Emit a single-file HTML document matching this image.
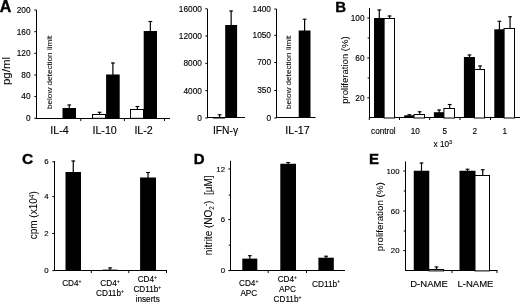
<!DOCTYPE html>
<html><head><meta charset="utf-8"><title>Figure</title>
<style>html,body{margin:0;padding:0;background:#fff;overflow:hidden}svg{display:block;will-change:transform;opacity:0.999}</style>
</head><body>
<svg width="520" height="303" viewBox="0 0 520 303">
<rect width="520" height="303" fill="#fff"/>
<text x="-0.2" y="11.8" font-family="Liberation Sans, sans-serif" font-size="16" text-anchor="start" font-weight="bold" fill="#000" stroke="#000" stroke-width="0.35">A</text>
<line x1="36.5" y1="10" x2="36.5" y2="119.0" stroke="#000" stroke-width="1"/>
<line x1="36.0" y1="118.5" x2="170" y2="118.5" stroke="#000" stroke-width="1"/>
<line x1="34.3" y1="118.3" x2="36.5" y2="118.3" stroke="#000" stroke-width="1"/>
<text x="30.5" y="121.122" font-family="Liberation Sans, sans-serif" font-size="8.3" text-anchor="end" fill="#000" stroke="#000" stroke-width="0.13">0</text>
<line x1="34.3" y1="96.6" x2="36.5" y2="96.6" stroke="#000" stroke-width="1"/>
<text x="30.5" y="99.422" font-family="Liberation Sans, sans-serif" font-size="8.3" text-anchor="end" fill="#000" stroke="#000" stroke-width="0.13">40</text>
<line x1="34.3" y1="75" x2="36.5" y2="75" stroke="#000" stroke-width="1"/>
<text x="30.5" y="77.822" font-family="Liberation Sans, sans-serif" font-size="8.3" text-anchor="end" fill="#000" stroke="#000" stroke-width="0.13">80</text>
<line x1="34.3" y1="53.3" x2="36.5" y2="53.3" stroke="#000" stroke-width="1"/>
<text x="30.5" y="56.122" font-family="Liberation Sans, sans-serif" font-size="8.3" text-anchor="end" fill="#000" stroke="#000" stroke-width="0.13">120</text>
<line x1="34.3" y1="31.7" x2="36.5" y2="31.7" stroke="#000" stroke-width="1"/>
<text x="30.5" y="34.522" font-family="Liberation Sans, sans-serif" font-size="8.3" text-anchor="end" fill="#000" stroke="#000" stroke-width="0.13">160</text>
<line x1="34.3" y1="10" x2="36.5" y2="10" stroke="#000" stroke-width="1"/>
<text x="30.5" y="12.822000000000001" font-family="Liberation Sans, sans-serif" font-size="8.3" text-anchor="end" fill="#000" stroke="#000" stroke-width="0.13">200</text>
<line x1="80.8" y1="118.5" x2="80.8" y2="121.0" stroke="#000" stroke-width="1"/>
<line x1="124.4" y1="118.5" x2="124.4" y2="121.0" stroke="#000" stroke-width="1"/>
<line x1="164.5" y1="118.5" x2="164.5" y2="121.0" stroke="#000" stroke-width="1"/>
<line x1="69.25" y1="104.5" x2="69.25" y2="108.5" stroke="#000" stroke-width="1.2"/>
<line x1="67.35" y1="105.0" x2="71.15" y2="105.0" stroke="#000" stroke-width="1.1"/>
<rect x="62.5" y="108" width="13.50" height="10.30" fill="#000"/>
<line x1="99.55" y1="111.8" x2="99.55" y2="114.5" stroke="#000" stroke-width="1.2"/>
<line x1="97.64999999999999" y1="112.3" x2="101.45" y2="112.3" stroke="#000" stroke-width="1.1"/>
<rect x="92.5" y="114.5" width="13.00" height="3.80" fill="#fff" stroke="#000" stroke-width="1"/>
<line x1="112.9" y1="62.5" x2="112.9" y2="75.0" stroke="#000" stroke-width="1.2"/>
<line x1="111.0" y1="63.0" x2="114.80000000000001" y2="63.0" stroke="#000" stroke-width="1.1"/>
<rect x="106.1" y="74.5" width="13.60" height="43.80" fill="#000"/>
<line x1="137.35" y1="106" x2="137.35" y2="109.5" stroke="#000" stroke-width="1.2"/>
<line x1="135.45" y1="106.5" x2="139.25" y2="106.5" stroke="#000" stroke-width="1.1"/>
<rect x="130.5" y="109.5" width="13.00" height="8.80" fill="#fff" stroke="#000" stroke-width="1"/>
<line x1="150.35" y1="21" x2="150.35" y2="31.5" stroke="#000" stroke-width="1.2"/>
<line x1="148.45" y1="21.5" x2="152.25" y2="21.5" stroke="#000" stroke-width="1.1"/>
<rect x="143.7" y="31" width="13.30" height="87.30" fill="#000"/>
<text x="59.5" y="133.6" font-family="Liberation Sans, sans-serif" font-size="10.7" text-anchor="middle" fill="#000" stroke="#000" stroke-width="0.13">IL-4</text>
<text x="104.6" y="133.6" font-family="Liberation Sans, sans-serif" font-size="10.7" text-anchor="middle" fill="#000" stroke="#000" stroke-width="0.13">IL-10</text>
<text x="143.6" y="133.6" font-family="Liberation Sans, sans-serif" font-size="10.7" text-anchor="middle" fill="#000" stroke="#000" stroke-width="0.13">IL-2</text>
<text x="9.8" y="71" font-family="Liberation Sans, sans-serif" font-size="11.5" text-anchor="middle" transform="rotate(-90 9.8 71)" fill="#000" stroke="#000" stroke-width="0.05">pg/ml</text>
<text x="51.6" y="72.3" font-family="Liberation Sans, sans-serif" font-size="7.7" text-anchor="middle" transform="rotate(-90 51.6 72.3)" fill="#000" stroke="#000" stroke-width="0.05" textLength="73.4" lengthAdjust="spacingAndGlyphs">below detection limit</text>
<line x1="207.5" y1="9" x2="207.5" y2="118.0" stroke="#000" stroke-width="1"/>
<line x1="207.0" y1="117.5" x2="245" y2="117.5" stroke="#000" stroke-width="1"/>
<line x1="205.3" y1="118" x2="207.5" y2="118" stroke="#000" stroke-width="1"/>
<text x="201.9" y="120.822" font-family="Liberation Sans, sans-serif" font-size="8.3" text-anchor="end" fill="#000" stroke="#000" stroke-width="0.13">0</text>
<line x1="205.3" y1="90.7" x2="207.5" y2="90.7" stroke="#000" stroke-width="1"/>
<text x="201.9" y="93.522" font-family="Liberation Sans, sans-serif" font-size="8.3" text-anchor="end" fill="#000" stroke="#000" stroke-width="0.13">4000</text>
<line x1="205.3" y1="63.3" x2="207.5" y2="63.3" stroke="#000" stroke-width="1"/>
<text x="201.9" y="66.122" font-family="Liberation Sans, sans-serif" font-size="8.3" text-anchor="end" fill="#000" stroke="#000" stroke-width="0.13">8000</text>
<line x1="205.3" y1="36" x2="207.5" y2="36" stroke="#000" stroke-width="1"/>
<text x="201.9" y="38.822" font-family="Liberation Sans, sans-serif" font-size="8.3" text-anchor="end" fill="#000" stroke="#000" stroke-width="0.13">12000</text>
<line x1="205.3" y1="8.8" x2="207.5" y2="8.8" stroke="#000" stroke-width="1"/>
<text x="201.9" y="11.622000000000002" font-family="Liberation Sans, sans-serif" font-size="8.3" text-anchor="end" fill="#000" stroke="#000" stroke-width="0.13">16000</text>
<line x1="219.6" y1="114.3" x2="219.6" y2="117.1" stroke="#000" stroke-width="1.2"/>
<line x1="217.7" y1="114.8" x2="221.5" y2="114.8" stroke="#000" stroke-width="1.1"/>
<rect x="213.5" y="117.5" width="11.00" height="0.50" fill="#fff" stroke="#000" stroke-width="1"/>
<line x1="231.14999999999998" y1="10.5" x2="231.14999999999998" y2="25.5" stroke="#000" stroke-width="1.2"/>
<line x1="229.24999999999997" y1="11.0" x2="233.04999999999998" y2="11.0" stroke="#000" stroke-width="1.1"/>
<rect x="225.2" y="25" width="11.90" height="93.00" fill="#000"/>
<text x="225.5" y="133.8" font-family="Liberation Sans, sans-serif" font-size="10.3" text-anchor="middle" fill="#000" stroke="#000" stroke-width="0.13">IFN-γ</text>
<line x1="276.5" y1="9" x2="276.5" y2="118.0" stroke="#000" stroke-width="1"/>
<line x1="276.0" y1="117.5" x2="315.5" y2="117.5" stroke="#000" stroke-width="1"/>
<line x1="274.3" y1="118" x2="276.5" y2="118" stroke="#000" stroke-width="1"/>
<text x="271" y="120.822" font-family="Liberation Sans, sans-serif" font-size="8.3" text-anchor="end" fill="#000" stroke="#000" stroke-width="0.13">0</text>
<line x1="274.3" y1="90.5" x2="276.5" y2="90.5" stroke="#000" stroke-width="1"/>
<text x="271" y="93.322" font-family="Liberation Sans, sans-serif" font-size="8.3" text-anchor="end" fill="#000" stroke="#000" stroke-width="0.13">350</text>
<line x1="274.3" y1="62.5" x2="276.5" y2="62.5" stroke="#000" stroke-width="1"/>
<text x="271" y="65.322" font-family="Liberation Sans, sans-serif" font-size="8.3" text-anchor="end" fill="#000" stroke="#000" stroke-width="0.13">700</text>
<line x1="274.3" y1="35.3" x2="276.5" y2="35.3" stroke="#000" stroke-width="1"/>
<text x="271" y="38.122" font-family="Liberation Sans, sans-serif" font-size="8.3" text-anchor="end" fill="#000" stroke="#000" stroke-width="0.13">1050</text>
<line x1="274.3" y1="9" x2="276.5" y2="9" stroke="#000" stroke-width="1"/>
<text x="271" y="11.822000000000001" font-family="Liberation Sans, sans-serif" font-size="8.3" text-anchor="end" fill="#000" stroke="#000" stroke-width="0.13">1400</text>
<line x1="304.6" y1="18.75" x2="304.6" y2="31.0" stroke="#000" stroke-width="1.2"/>
<line x1="302.70000000000005" y1="19.25" x2="306.5" y2="19.25" stroke="#000" stroke-width="1.1"/>
<rect x="298.7" y="30.5" width="11.80" height="87.50" fill="#000"/>
<text x="290.7" y="72.3" font-family="Liberation Sans, sans-serif" font-size="7.7" text-anchor="middle" transform="rotate(-90 290.7 72.3)" fill="#000" stroke="#000" stroke-width="0.05" textLength="73.4" lengthAdjust="spacingAndGlyphs">below detection limit</text>
<text x="297.5" y="133.8" font-family="Liberation Sans, sans-serif" font-size="10.7" text-anchor="middle" fill="#000" stroke="#000" stroke-width="0.13">IL-17</text>
<text x="335.3" y="11.7" font-family="Liberation Sans, sans-serif" font-size="15" text-anchor="start" font-weight="bold" fill="#000" stroke="#000" stroke-width="0.35">B</text>
<line x1="369.5" y1="8" x2="369.5" y2="118.0" stroke="#000" stroke-width="1"/>
<line x1="369.0" y1="117.5" x2="520" y2="117.5" stroke="#000" stroke-width="1"/>
<line x1="367.3" y1="97.8" x2="369.5" y2="97.8" stroke="#000" stroke-width="1"/>
<text x="364.5" y="100.622" font-family="Liberation Sans, sans-serif" font-size="8.3" text-anchor="end" fill="#000" stroke="#000" stroke-width="0.13">20</text>
<line x1="367.3" y1="58" x2="369.5" y2="58" stroke="#000" stroke-width="1"/>
<text x="364.5" y="60.822" font-family="Liberation Sans, sans-serif" font-size="8.3" text-anchor="end" fill="#000" stroke="#000" stroke-width="0.13">60</text>
<line x1="367.3" y1="18" x2="369.5" y2="18" stroke="#000" stroke-width="1"/>
<text x="364.5" y="20.822" font-family="Liberation Sans, sans-serif" font-size="8.3" text-anchor="end" fill="#000" stroke="#000" stroke-width="0.13">100</text>
<line x1="367.7" y1="38" x2="369.5" y2="38" stroke="#000" stroke-width="1"/>
<line x1="367.7" y1="78" x2="369.5" y2="78" stroke="#000" stroke-width="1"/>
<line x1="369.3" y1="117.5" x2="369.3" y2="120.0" stroke="#000" stroke-width="1"/>
<line x1="399.5" y1="117.5" x2="399.5" y2="120.0" stroke="#000" stroke-width="1"/>
<line x1="429.7" y1="117.5" x2="429.7" y2="120.0" stroke="#000" stroke-width="1"/>
<line x1="460" y1="117.5" x2="460" y2="120.0" stroke="#000" stroke-width="1"/>
<line x1="490.5" y1="117.5" x2="490.5" y2="120.0" stroke="#000" stroke-width="1"/>
<line x1="379.3" y1="9.5" x2="379.3" y2="18.5" stroke="#000" stroke-width="1.2"/>
<line x1="377.40000000000003" y1="10.0" x2="381.2" y2="10.0" stroke="#000" stroke-width="1.1"/>
<rect x="374" y="18" width="10.60" height="100.00" fill="#000"/>
<line x1="389.55" y1="15.5" x2="389.55" y2="18.0" stroke="#000" stroke-width="1.2"/>
<line x1="387.65000000000003" y1="16.0" x2="391.45" y2="16.0" stroke="#000" stroke-width="1.1"/>
<rect x="384.1" y="18.5" width="10.40" height="99.50" fill="#fff" stroke="#000" stroke-width="1"/>
<line x1="409.35" y1="114.2" x2="409.35" y2="115.8" stroke="#000" stroke-width="1.2"/>
<line x1="407.45000000000005" y1="114.7" x2="411.25" y2="114.7" stroke="#000" stroke-width="1.1"/>
<rect x="404.2" y="115.3" width="10.30" height="2.70" fill="#000"/>
<line x1="419.65" y1="111.3" x2="419.65" y2="114.5" stroke="#000" stroke-width="1.2"/>
<line x1="417.75" y1="111.8" x2="421.54999999999995" y2="111.8" stroke="#000" stroke-width="1.1"/>
<rect x="414.0" y="114.5" width="10.50" height="3.50" fill="#fff" stroke="#000" stroke-width="1"/>
<line x1="439.15" y1="109.5" x2="439.15" y2="112.7" stroke="#000" stroke-width="1.2"/>
<line x1="437.25" y1="110.0" x2="441.04999999999995" y2="110.0" stroke="#000" stroke-width="1.1"/>
<rect x="433.9" y="112.2" width="10.50" height="5.80" fill="#000"/>
<line x1="449.7" y1="104" x2="449.7" y2="108.0" stroke="#000" stroke-width="1.2"/>
<line x1="447.8" y1="104.5" x2="451.59999999999997" y2="104.5" stroke="#000" stroke-width="1.1"/>
<rect x="443.9" y="108.5" width="10.60" height="9.50" fill="#fff" stroke="#000" stroke-width="1"/>
<line x1="469.45" y1="54.5" x2="469.45" y2="57.5" stroke="#000" stroke-width="1.2"/>
<line x1="467.55" y1="55.0" x2="471.34999999999997" y2="55.0" stroke="#000" stroke-width="1.1"/>
<rect x="463.9" y="57" width="11.10" height="61.00" fill="#000"/>
<line x1="480.1" y1="65.5" x2="480.1" y2="69.8" stroke="#000" stroke-width="1.2"/>
<line x1="478.20000000000005" y1="66.0" x2="482.0" y2="66.0" stroke="#000" stroke-width="1.1"/>
<rect x="474.5" y="69.5" width="10.00" height="48.50" fill="#fff" stroke="#000" stroke-width="1"/>
<line x1="499.45000000000005" y1="20.8" x2="499.45000000000005" y2="29.8" stroke="#000" stroke-width="1.2"/>
<line x1="497.55000000000007" y1="21.3" x2="501.35" y2="21.3" stroke="#000" stroke-width="1.1"/>
<rect x="494.3" y="29.3" width="10.30" height="88.70" fill="#000"/>
<line x1="510.05" y1="16.3" x2="510.05" y2="28.5" stroke="#000" stroke-width="1.2"/>
<line x1="508.15000000000003" y1="16.8" x2="511.95" y2="16.8" stroke="#000" stroke-width="1.1"/>
<rect x="504.1" y="28.5" width="10.40" height="89.50" fill="#fff" stroke="#000" stroke-width="1"/>
<text x="383.4" y="133.8" font-family="Liberation Sans, sans-serif" font-size="8.2" text-anchor="middle" fill="#000" stroke="#000" stroke-width="0.13">control</text>
<text x="415.3" y="133.8" font-family="Liberation Sans, sans-serif" font-size="8.2" text-anchor="middle" fill="#000" stroke="#000" stroke-width="0.13">10</text>
<text x="444.7" y="133.8" font-family="Liberation Sans, sans-serif" font-size="8.2" text-anchor="middle" fill="#000" stroke="#000" stroke-width="0.13">5</text>
<text x="474.8" y="133.8" font-family="Liberation Sans, sans-serif" font-size="8.2" text-anchor="middle" fill="#000" stroke="#000" stroke-width="0.13">2</text>
<text x="504.8" y="133.8" font-family="Liberation Sans, sans-serif" font-size="8.2" text-anchor="middle" fill="#000" stroke="#000" stroke-width="0.13">1</text>
<text x="442.8" y="146.5" font-family="Liberation Sans, sans-serif" font-size="8.2" text-anchor="middle" fill="#000" stroke="#000" stroke-width="0.13">x 10<tspan font-size="5.5" dy="-3">3</tspan></text>
<text x="347.8" y="70" font-family="Liberation Sans, sans-serif" font-size="9.2" text-anchor="middle" transform="rotate(-90 347.8 70)" fill="#000" stroke="#000" stroke-width="0.05" textLength="67.5" lengthAdjust="spacingAndGlyphs">proliferation (%)</text>
<text x="22" y="164.2" font-family="Liberation Sans, sans-serif" font-size="15.5" text-anchor="start" font-weight="bold" fill="#000" stroke="#000" stroke-width="0.35">C</text>
<line x1="54.5" y1="161" x2="54.5" y2="271.0" stroke="#000" stroke-width="1"/>
<line x1="54.0" y1="270.5" x2="167" y2="270.5" stroke="#000" stroke-width="1"/>
<line x1="52.3" y1="270.6" x2="54.5" y2="270.6" stroke="#000" stroke-width="1"/>
<text x="48.5" y="273.252" font-family="Liberation Sans, sans-serif" font-size="7.8" text-anchor="end" fill="#000" stroke="#000" stroke-width="0.13">0</text>
<line x1="52.3" y1="233.5" x2="54.5" y2="233.5" stroke="#000" stroke-width="1"/>
<text x="48.5" y="236.152" font-family="Liberation Sans, sans-serif" font-size="7.8" text-anchor="end" fill="#000" stroke="#000" stroke-width="0.13">2</text>
<line x1="52.3" y1="196.6" x2="54.5" y2="196.6" stroke="#000" stroke-width="1"/>
<text x="48.5" y="199.25199999999998" font-family="Liberation Sans, sans-serif" font-size="7.8" text-anchor="end" fill="#000" stroke="#000" stroke-width="0.13">4</text>
<line x1="52.3" y1="161.8" x2="54.5" y2="161.8" stroke="#000" stroke-width="1"/>
<text x="48.5" y="164.452" font-family="Liberation Sans, sans-serif" font-size="7.8" text-anchor="end" fill="#000" stroke="#000" stroke-width="0.13">6</text>
<line x1="91.3" y1="270.5" x2="91.3" y2="273.0" stroke="#000" stroke-width="1"/>
<line x1="128.8" y1="270.5" x2="128.8" y2="273.0" stroke="#000" stroke-width="1"/>
<line x1="166.5" y1="270.6" x2="166.5" y2="273" stroke="#000" stroke-width="1"/>
<line x1="73.25" y1="160.5" x2="73.25" y2="172.5" stroke="#000" stroke-width="1.2"/>
<line x1="71.35" y1="161.0" x2="75.15" y2="161.0" stroke="#000" stroke-width="1.1"/>
<rect x="65.5" y="172" width="15.50" height="98.60" fill="#000"/>
<line x1="110.05000000000001" y1="267.4" x2="110.05000000000001" y2="270.1" stroke="#000" stroke-width="1.2"/>
<line x1="108.15" y1="267.9" x2="111.95000000000002" y2="267.9" stroke="#000" stroke-width="1.1"/>
<rect x="102.7" y="269.6" width="14.70" height="1.00" fill="#000"/>
<line x1="148.05" y1="172" x2="148.05" y2="178.0" stroke="#000" stroke-width="1.2"/>
<line x1="146.15" y1="172.5" x2="149.95000000000002" y2="172.5" stroke="#000" stroke-width="1.1"/>
<rect x="140.1" y="177.5" width="15.90" height="93.10" fill="#000"/>
<text x="71.8" y="285.9" font-family="Liberation Sans, sans-serif" font-size="8.2" text-anchor="middle" fill="#000" stroke="#000" stroke-width="0.13">CD4<tspan font-size="5" dy="-3.4">+</tspan></text>
<text x="110" y="285.9" font-family="Liberation Sans, sans-serif" font-size="8.2" text-anchor="middle" fill="#000" stroke="#000" stroke-width="0.13">CD4<tspan font-size="5" dy="-3.4">+</tspan></text>
<text x="110" y="296.3" font-family="Liberation Sans, sans-serif" font-size="8.2" text-anchor="middle" fill="#000" stroke="#000" stroke-width="0.13">CD11b<tspan font-size="5" dy="-3.4">+</tspan></text>
<text x="147.3" y="282" font-family="Liberation Sans, sans-serif" font-size="8.2" text-anchor="middle" fill="#000" stroke="#000" stroke-width="0.13">CD4<tspan font-size="5" dy="-3.4">+</tspan></text>
<text x="147.3" y="292.1" font-family="Liberation Sans, sans-serif" font-size="8.2" text-anchor="middle" fill="#000" stroke="#000" stroke-width="0.13">CD11b<tspan font-size="5" dy="-3.4">+</tspan></text>
<text x="147.7" y="301.9" font-family="Liberation Sans, sans-serif" font-size="8.2" text-anchor="middle" fill="#000" stroke="#000" stroke-width="0.13">inserts</text>
<text x="36.7" y="215.3" font-family="Liberation Sans, sans-serif" font-size="10" text-anchor="middle" transform="rotate(-90 36.7 215.3)" fill="#000" stroke="#000" stroke-width="0.05">cpm (x10<tspan font-size="6.5" dy="-3">4</tspan><tspan dy="3">)</tspan></text>
<text x="193.8" y="164" font-family="Liberation Sans, sans-serif" font-size="15" text-anchor="start" font-weight="bold" fill="#000" stroke="#000" stroke-width="0.35">D</text>
<line x1="230.5" y1="160.8" x2="230.5" y2="271.0" stroke="#000" stroke-width="1"/>
<line x1="230.0" y1="270.5" x2="345" y2="270.5" stroke="#000" stroke-width="1"/>
<line x1="228.3" y1="270.6" x2="230.5" y2="270.6" stroke="#000" stroke-width="1"/>
<text x="225" y="273.252" font-family="Liberation Sans, sans-serif" font-size="7.8" text-anchor="end" fill="#000" stroke="#000" stroke-width="0.13">0</text>
<line x1="228.3" y1="219.6" x2="230.5" y2="219.6" stroke="#000" stroke-width="1"/>
<text x="225" y="222.25199999999998" font-family="Liberation Sans, sans-serif" font-size="7.8" text-anchor="end" fill="#000" stroke="#000" stroke-width="0.13">6</text>
<line x1="228.3" y1="169" x2="230.5" y2="169" stroke="#000" stroke-width="1"/>
<text x="225" y="171.652" font-family="Liberation Sans, sans-serif" font-size="7.8" text-anchor="end" fill="#000" stroke="#000" stroke-width="0.13">12</text>
<line x1="228.7" y1="195" x2="230.5" y2="195" stroke="#000" stroke-width="1"/>
<line x1="228.7" y1="245.2" x2="230.5" y2="245.2" stroke="#000" stroke-width="1"/>
<line x1="268.2" y1="270.5" x2="268.2" y2="273.0" stroke="#000" stroke-width="1"/>
<line x1="306.5" y1="270.5" x2="306.5" y2="273.0" stroke="#000" stroke-width="1"/>
<line x1="249.8" y1="255.2" x2="249.8" y2="259.1" stroke="#000" stroke-width="1.2"/>
<line x1="247.9" y1="255.7" x2="251.70000000000002" y2="255.7" stroke="#000" stroke-width="1.1"/>
<rect x="242.3" y="258.6" width="15.00" height="12.00" fill="#000"/>
<line x1="288.15" y1="162" x2="288.15" y2="164.25" stroke="#000" stroke-width="1.2"/>
<line x1="286.25" y1="162.5" x2="290.04999999999995" y2="162.5" stroke="#000" stroke-width="1.1"/>
<rect x="280.3" y="163.75" width="15.70" height="106.85" fill="#000"/>
<line x1="326.1" y1="255.75" x2="326.1" y2="258.2" stroke="#000" stroke-width="1.2"/>
<line x1="324.20000000000005" y1="256.25" x2="328.0" y2="256.25" stroke="#000" stroke-width="1.1"/>
<rect x="318.4" y="257.7" width="15.40" height="12.90" fill="#000"/>
<text x="248.7" y="286.3" font-family="Liberation Sans, sans-serif" font-size="8.2" text-anchor="middle" fill="#000" stroke="#000" stroke-width="0.13">CD4<tspan font-size="5" dy="-3.4">+</tspan></text>
<text x="248.8" y="296.3" font-family="Liberation Sans, sans-serif" font-size="8.2" text-anchor="middle" fill="#000" stroke="#000" stroke-width="0.13">APC</text>
<text x="287.3" y="282.1" font-family="Liberation Sans, sans-serif" font-size="8.2" text-anchor="middle" fill="#000" stroke="#000" stroke-width="0.13">CD4<tspan font-size="5" dy="-3.4">+</tspan></text>
<text x="287.5" y="292.1" font-family="Liberation Sans, sans-serif" font-size="8.2" text-anchor="middle" fill="#000" stroke="#000" stroke-width="0.13">APC</text>
<text x="287.5" y="302.2" font-family="Liberation Sans, sans-serif" font-size="8.2" text-anchor="middle" fill="#000" stroke="#000" stroke-width="0.13">CD11b<tspan font-size="5" dy="-3.4">+</tspan></text>
<text x="326" y="286.6" font-family="Liberation Sans, sans-serif" font-size="8.3" text-anchor="middle" fill="#000" stroke="#000" stroke-width="0.13">CD11b<tspan font-size="5" dy="-3.4">+</tspan></text>
<text x="212.4" y="215.3" font-family="Liberation Sans, sans-serif" font-size="10" text-anchor="middle" transform="rotate(-90 212.4 215.3)" fill="#000" stroke="#000" stroke-width="0.05" xml:space="preserve">nitrite (NO<tspan font-size="6.5" dy="2">2</tspan><tspan font-size="6.5" dy="-6">-</tspan><tspan dy="4">)  [µM]</tspan></text>
<text x="369" y="164.1" font-family="Liberation Sans, sans-serif" font-size="15" text-anchor="start" font-weight="bold" fill="#000" stroke="#000" stroke-width="0.35">E</text>
<line x1="405.5" y1="161.4" x2="405.5" y2="271.0" stroke="#000" stroke-width="1"/>
<line x1="405.0" y1="270.5" x2="497.5" y2="270.5" stroke="#000" stroke-width="1"/>
<line x1="403.3" y1="250.6" x2="405.5" y2="250.6" stroke="#000" stroke-width="1"/>
<text x="399.5" y="253.25199999999998" font-family="Liberation Sans, sans-serif" font-size="7.8" text-anchor="end" fill="#000" stroke="#000" stroke-width="0.13">20</text>
<line x1="403.3" y1="211" x2="405.5" y2="211" stroke="#000" stroke-width="1"/>
<text x="399.5" y="213.652" font-family="Liberation Sans, sans-serif" font-size="7.8" text-anchor="end" fill="#000" stroke="#000" stroke-width="0.13">60</text>
<line x1="403.3" y1="171" x2="405.5" y2="171" stroke="#000" stroke-width="1"/>
<text x="399.5" y="173.652" font-family="Liberation Sans, sans-serif" font-size="7.8" text-anchor="end" fill="#000" stroke="#000" stroke-width="0.13">100</text>
<line x1="403.7" y1="191" x2="405.5" y2="191" stroke="#000" stroke-width="1"/>
<line x1="403.7" y1="231" x2="405.5" y2="231" stroke="#000" stroke-width="1"/>
<line x1="452" y1="270.5" x2="452" y2="273.0" stroke="#000" stroke-width="1"/>
<line x1="497" y1="270.5" x2="497" y2="273.0" stroke="#000" stroke-width="1"/>
<line x1="421.5" y1="162.5" x2="421.5" y2="171.25" stroke="#000" stroke-width="1.2"/>
<line x1="419.6" y1="163.0" x2="423.4" y2="163.0" stroke="#000" stroke-width="1.1"/>
<rect x="413.75" y="170.75" width="15.50" height="100.15" fill="#000"/>
<line x1="436.5" y1="266.5" x2="436.5" y2="269.4" stroke="#000" stroke-width="1.2"/>
<line x1="434.6" y1="267.0" x2="438.4" y2="267.0" stroke="#000" stroke-width="1.1"/>
<rect x="428.75" y="269.5" width="14.75" height="1.40" fill="#fff" stroke="#000" stroke-width="1"/>
<line x1="467.5" y1="168.75" x2="467.5" y2="171.25" stroke="#000" stroke-width="1.2"/>
<line x1="465.6" y1="169.25" x2="469.4" y2="169.25" stroke="#000" stroke-width="1.1"/>
<rect x="459.5" y="170.75" width="16.00" height="100.15" fill="#000"/>
<line x1="482.75" y1="169.25" x2="482.75" y2="175.5" stroke="#000" stroke-width="1.2"/>
<line x1="480.85" y1="169.75" x2="484.65" y2="169.75" stroke="#000" stroke-width="1.1"/>
<rect x="475.0" y="175.5" width="14.50" height="95.40" fill="#fff" stroke="#000" stroke-width="1"/>
<text x="429" y="287" font-family="Liberation Sans, sans-serif" font-size="9.5" text-anchor="middle" fill="#000" stroke="#000" stroke-width="0.13">D-NAME</text>
<text x="475.5" y="287" font-family="Liberation Sans, sans-serif" font-size="9.5" text-anchor="middle" fill="#000" stroke="#000" stroke-width="0.13">L-NAME</text>
<text x="382.6" y="216.7" font-family="Liberation Sans, sans-serif" font-size="9.2" text-anchor="middle" transform="rotate(-90 382.6 216.7)" fill="#000" stroke="#000" stroke-width="0.05" textLength="69" lengthAdjust="spacingAndGlyphs">proliferation (%)</text>
</svg>
</body></html>
